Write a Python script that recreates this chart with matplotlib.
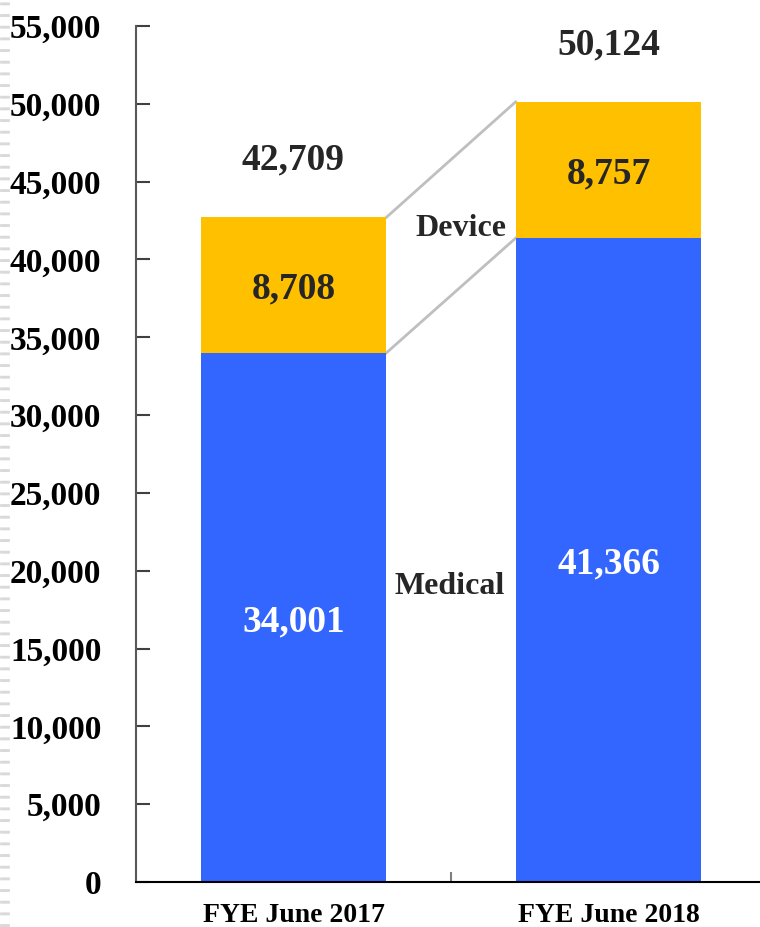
import matplotlib.pyplot as plt
from matplotlib.lines import Line2D
from matplotlib.ticker import FuncFormatter

categories = ['FYE June 2017', 'FYE June 2018']
medical = [34001, 41366]
device = [8708, 8757]
totals = [42709, 50124]
yticks = list(range(0, 55001, 5000))

blue = '#3366FF'
gold = '#FFC000'
dark = '#262626'
font = ['Liberation Serif', 'DejaVu Serif']

fig = plt.figure(figsize=(7.6, 9.27), dpi=100)
ax = fig.add_axes([136 / 760, 45 / 927, 630 / 760, 856 / 927])

x = [0, 1]
w = 0.59
ax.bar(x, medical, width=w, color=blue, zorder=2)
ax.bar(x, device, width=w, bottom=medical, color=gold, zorder=2)

# connector lines between the two stacks
tops = [m + d for m, d in zip(medical, device)]
ax.plot([x[0] + w / 2, x[1] - w / 2], tops, color='#BFBFBF', lw=2, zorder=1)
ax.plot([x[0] + w / 2, x[1] - w / 2], medical, color='#BFBFBF', lw=2, zorder=1)

for i in x:
    ax.annotate(f'{medical[i]:,}', (i, medical[i] / 2), xytext=(0, -3), textcoords='offset points',
                ha='center', va='center', color='white', fontsize=27, fontweight='bold', family=font)
    ax.annotate(f'{device[i]:,}', (i, medical[i] + device[i] / 2), xytext=(0, -3),
                textcoords='offset points', ha='center', va='center', color=dark,
                fontsize=27, fontweight='bold', family=font)
    ax.annotate(f'{totals[i]:,}', (i, tops[i]), xytext=(0, 41), textcoords='offset points',
                ha='center', va='center', color=dark, fontsize=27, fontweight='bold', family=font)

ax.text(0.53, 41958, 'Device', ha='center', va='center', color=dark, fontsize=23,
        fontweight='bold', family=font)
ax.text(0.495, 19000, 'Medical', ha='center', va='center', color=dark, fontsize=23,
        fontweight='bold', family=font)

ax.set_xlim(-0.5, 1.5)
ax.set_ylim(0, 55000)
ax.set_yticks(yticks)
ax.yaxis.set_major_formatter(FuncFormatter(lambda v, p: f'{int(v):,}'))
ax.set_xticks(x)
ax.set_xticklabels(categories)
ax.set_xticks([0.5], minor=True)
ax.tick_params(axis='x', which='major', length=0, pad=15)
ax.tick_params(axis='x', which='minor', direction='in', length=7, color='#7F7F7F', width=1.5)
ax.tick_params(axis='y', direction='in', length=10, color='#404040', width=1.5, pad=25)
for lab in ax.get_yticklabels():
    lab.set_fontsize(24)
    lab.set_fontweight('bold')
    lab.set_family(font)
for lab in ax.get_xticklabels():
    lab.set_fontsize(20)
    lab.set_fontweight('bold')
    lab.set_family(font)

ax.spines['top'].set_visible(False)
ax.spines['right'].set_visible(False)
ax.spines['left'].set_color('#595959')
ax.spines['left'].set_linewidth(1.5)
ax.spines['bottom'].set_color('black')
ax.spines['bottom'].set_linewidth(1.5)

# faint dashed strip along the left edge
fig.add_artist(Line2D([5 / 760, 5 / 760], [0, 1], transform=fig.transFigure, color='#D9D9D9',
                      lw=7, linestyle=(0, (0.3, 0.9))))

fig.savefig('out.png', dpi=100)
